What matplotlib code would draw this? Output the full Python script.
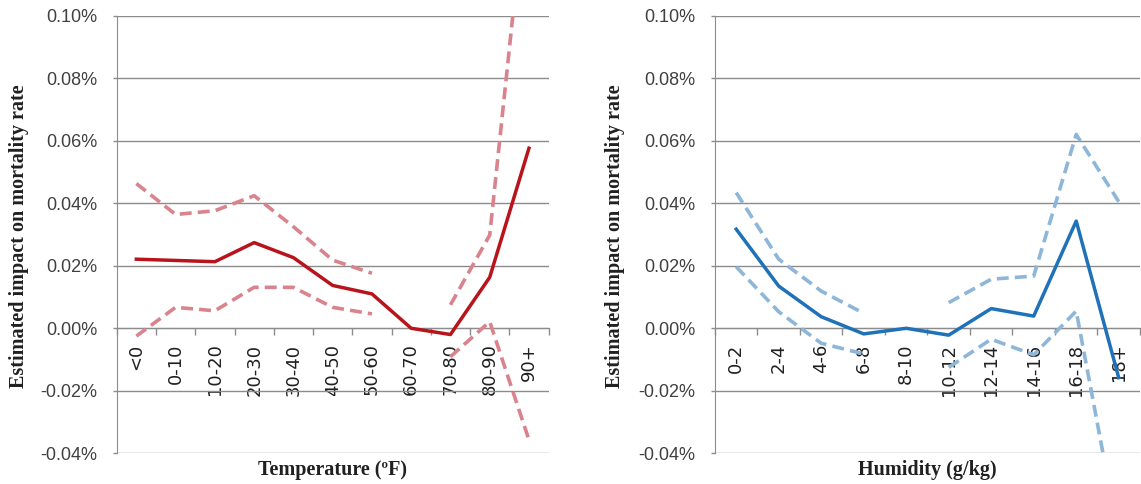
import matplotlib
matplotlib.use("Agg")
import matplotlib.pyplot as plt
import numpy as np
from matplotlib.ticker import FixedLocator, FuncFormatter, NullFormatter

nan = np.nan

# Temperature bins (°F): point estimate and 95% confidence band, in percent
temp_bins = ["<0", "0-10", "10-20", "20-30", "30-40", "40-50", "50-60",
             "60-70", "70-80", "80-90", "90+"]
temp_est = [0.0221, 0.0217, 0.0213, 0.0274, 0.0226, 0.0137, 0.0110,
            0.0000, -0.0020, 0.0163, 0.0576]
temp_upper = [0.0463, 0.0364, 0.0376, 0.0424, 0.0325, 0.0218, 0.0176,
              nan, 0.0075, 0.0298, 0.1490]
temp_lower = [-0.0025, 0.0067, 0.0056, 0.0131, 0.0131, 0.0067, 0.0046,
              nan, -0.0091, 0.0021, -0.0357]

# Humidity bins (g/kg)
hum_bins = ["0-2", "2-4", "4-6", "6-8", "8-10", "10-12", "12-14",
            "14-16", "16-18", "18+"]
hum_est = [0.0317, 0.0135, 0.0037, -0.0018, 0.0000, -0.0022, 0.0063,
           0.0039, 0.0343, -0.0158]
hum_upper = [0.0434, 0.0221, 0.0119, 0.0048, nan, 0.0082, 0.0157,
             0.0167, 0.0620, 0.0405]
hum_lower = [0.0197, 0.0053, -0.0048, -0.0082, nan, -0.0125, -0.0035,
             -0.0085, 0.0055, -0.0667]

y_ticks = [-0.04, -0.02, 0.00, 0.02, 0.04, 0.06, 0.08, 0.10]

GRID = "#8c8c8c"
TICK_FONT = "Liberation Sans"
LABEL_FONT = "Liberation Serif"

fig = plt.figure(figsize=(11.41, 4.84), dpi=100)
ax_t = fig.add_axes([0.1023, 0.0634, 0.3785, 0.9042])
ax_h = fig.add_axes([0.6266, 0.0634, 0.3725, 0.9042])


def draw_panel(ax, bins, est, upper, lower, solid_color, band_color, xlabel):
    n = len(bins)
    x = np.arange(n)
    for band in (upper, lower):
        ax.plot(x, band, color=band_color, lw=2.6, dashes=(3.3, 1.7),
                dash_capstyle="butt", zorder=3)
    ax.plot(x, est, color=solid_color, lw=2.5, zorder=4,
            solid_joinstyle="round")

    ax.set_xlim(-0.5, n - 0.5)
    ax.set_ylim(y_ticks[0], y_ticks[-1])

    ax.yaxis.set_major_locator(FixedLocator(y_ticks))
    ax.yaxis.set_major_formatter(FuncFormatter(lambda v, p: f"{v:.2f}%"))
    ax.tick_params(axis="y", length=3, width=1, color=GRID, pad=11,
                   labelsize=13, labelcolor="#404040")
    for lab in ax.get_yticklabels():
        lab.set_fontfamily(TICK_FONT)

    # category boundaries carry the tick marks, category centres carry the labels
    ax.xaxis.set_major_locator(FixedLocator(np.arange(n + 1) - 0.5))
    ax.xaxis.set_major_formatter(NullFormatter())
    ax.xaxis.set_minor_locator(FixedLocator(x))
    ax.xaxis.set_minor_formatter(FuncFormatter(lambda v, p: bins[int(round(v))]))
    ax.tick_params(axis="x", which="major", length=5, width=1, color=GRID,
                   direction="out")
    ax.tick_params(axis="x", which="minor", length=0, pad=11, labelsize=13,
                   labelcolor="#202020", labelrotation=90)
    for lab in ax.xaxis.get_minorticklabels():
        lab.set_fontfamily(TICK_FONT)
        lab.set_va("top")

    ax.grid(axis="y", color=GRID, lw=1)
    ax.set_axisbelow(True)
    for side in ("top", "right"):
        ax.spines[side].set_visible(False)
    ax.spines["left"].set_color(GRID)
    ax.spines["bottom"].set_color(GRID)
    ax.spines["bottom"].set_position(("data", 0))

    ax.text(0.5, -0.039, xlabel, transform=ax.transAxes, ha="center",
            va="center", fontsize=14.5, fontweight="bold", family=LABEL_FONT,
            color="#202020")


draw_panel(ax_t, temp_bins, temp_est, temp_upper, temp_lower,
           "#b8141c", "#d9838c", "Temperature (ºF)")
draw_panel(ax_h, hum_bins, hum_est, hum_upper, hum_lower,
           "#1f71b8", "#8db6d9", "Humidity (g/kg)")

ylabel = "Estimated impact on mortality rate"
fig.text(19 / 1141, 0.512, ylabel, rotation=90, ha="center", va="center",
         fontsize=14.5, fontweight="bold", family=LABEL_FONT, color="#202020")
fig.text(615 / 1141, 0.512, ylabel, rotation=90, ha="center", va="center",
         fontsize=14.5, fontweight="bold", family=LABEL_FONT, color="#202020")

fig.savefig("out.png", dpi=100)
